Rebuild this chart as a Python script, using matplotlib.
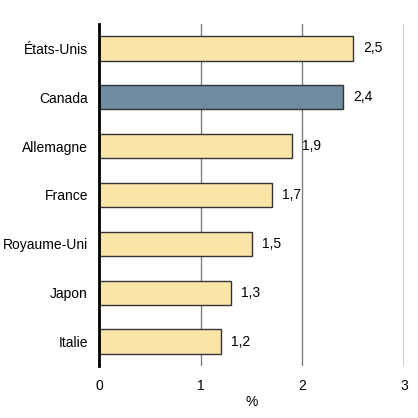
import matplotlib.pyplot as plt

pays = ["États-Unis", "Canada", "Allemagne", "France", "Royaume-Uni", "Japon", "Italie"]
valeurs = [2.5, 2.4, 1.9, 1.7, 1.5, 1.3, 1.2]
etiquettes = ["2,5", "2,4", "1,9", "1,7", "1,5", "1,3", "1,2"]
xticks = [0, 1, 2, 3]

plt.rcParams['font.family'] = ['Liberation Sans', 'DejaVu Sans']

fig = plt.figure(figsize=(4.18, 4.18), dpi=100)
ax = fig.add_axes([0.237, 0.124, 0.73, 0.819])

couleurs = ["#6F8CA0" if p == "Canada" else "#FAE5A9" for p in pays]
pos = list(range(len(pays)))
ax.barh(pos, valeurs, height=0.5, color=couleurs, edgecolor="#333333", linewidth=1, zorder=3)

for i, (v, t) in enumerate(zip(valeurs, etiquettes)):
    ax.text(v + 0.1, i, t, va="center", ha="left", fontsize=10)

for x in [1, 2]:
    ax.axvline(x, color="#808080", linewidth=1, zorder=1)
ax.axvline(3, color="black", linewidth=1, zorder=1)

ax.set_xlim(0, 3)
ax.set_ylim(6.5, -0.5)
ax.set_yticks(pos)
ax.set_yticklabels(pays, fontsize=10)
ax.set_xticks(xticks)
ax.set_xticklabels([str(x) for x in xticks], fontsize=10)
ax.tick_params(axis="y", length=0, pad=8)
ax.tick_params(axis="x", length=0, pad=9)
ax.set_xlabel("%", fontsize=10, labelpad=2)

for s in ["top", "right", "bottom"]:
    ax.spines[s].set_visible(False)
ax.spines["left"].set_linewidth(2)
ax.spines["left"].set_zorder(4)

fig.savefig("out.png", dpi=100)
